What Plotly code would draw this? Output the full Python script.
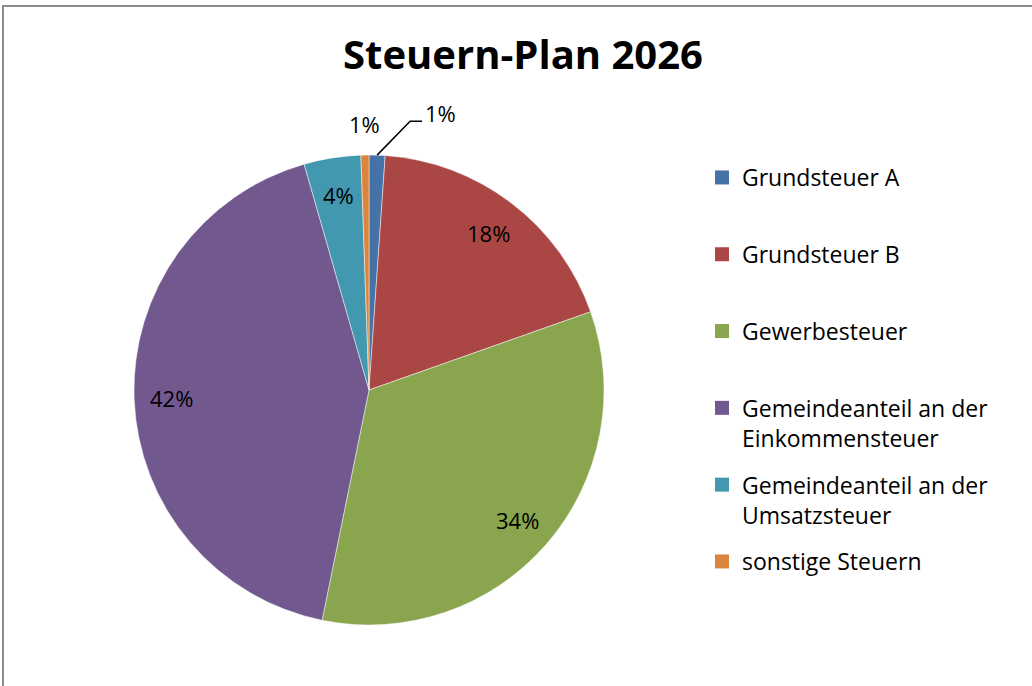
import math
import plotly.graph_objects as go

labels = ["Grundsteuer A", "Grundsteuer B", "Gewerbesteuer",
          "Gemeindeanteil an der<br>Einkommensteuer",
          "Gemeindeanteil an der<br>Umsatzsteuer", "sonstige Steuern"]
values = [1.1, 18.5, 33.6, 42.35, 3.9, 0.55]
colors = ["#4572A7", "#AA4643", "#89A54E", "#71588F", "#4198AF", "#DB843D"]
title_text = "Steuern-Plan 2026"

W, H = 1032, 686
FONT = "Open Sans"
# pie geometry (pixels)
CX, CY, R = 369, 390, 235


def px(x):
    return x / W


def py(y):
    return 1 - y / H


fig = go.Figure()
fig.add_trace(go.Pie(
    labels=[l.replace("<br>", " ") for l in labels],
    values=values,
    sort=False,
    direction="clockwise",
    rotation=0,
    marker=dict(colors=colors, line=dict(color="rgba(255,255,255,0.6)", width=0.8)),
    textinfo="none",
    hoverinfo="label+percent",
    showlegend=False,
    domain=dict(x=[px(CX - R), px(CX + R)], y=[py(CY + R), py(CY - R)]),
))

# legend entries (one group each so they can be spaced like the original)
for lab, col in zip(labels, colors):
    text = lab if "<br>" in lab else lab + "<br> "
    fig.add_trace(go.Scatter(
        x=[None], y=[None], mode="markers", name=text,
        legendgroup=lab, hoverinfo="skip",
        marker=dict(symbol="square", size=14, color=col),
    ))

# percentage labels computed from the values
total = sum(values)
annotations = []
shapes = []
LBL = dict(family=FONT, size=22, color="black")
cum = 0.0
for i, v in enumerate(values):
    mid = (cum + v / 2) / total * 2 * math.pi
    cum += v
    pct = f"{v / total * 100:.0f}%"
    s, c = math.sin(mid), math.cos(mid)
    if v / total >= 0.02:
        x, y = CX + 0.84 * R * s, CY - 0.84 * R * c
        annotations.append(dict(x=px(x), y=py(y), xref="paper", yref="paper",
                                text=pct, showarrow=False,
                                xanchor="center", yanchor="middle", font=LBL))
    elif i == 0:
        ex, ey = CX + R * s, CY - R * c
        elx, ely = ex + 33, ey - 34
        enx = elx + 12
        shapes.append(dict(type="path", xref="paper", yref="paper",
                           path=f"M {px(ex)},{py(ey)} L {px(elx)},{py(ely)} L {px(enx)},{py(ely)}",
                           line=dict(color="black", width=1.5)))
        annotations.append(dict(x=px(enx + 1), y=py(ely - 8), xref="paper", yref="paper",
                                text=pct, showarrow=False,
                                xanchor="left", yanchor="middle", font=LBL))
    else:
        x, y = CX + 1.13 * R * s, CY - 1.13 * R * c
        annotations.append(dict(x=px(x), y=py(y), xref="paper", yref="paper",
                                text=pct, showarrow=False,
                                xanchor="center", yanchor="middle", font=LBL))

shapes.append(dict(type="rect", xref="paper", yref="paper",
                   x0=px(3), x1=1.02, y0=-0.02, y1=py(6),
                   line=dict(color="#8c8c8c", width=2)))

fig.update_layout(
    width=W, height=H,
    margin=dict(l=0, r=0, t=0, b=0),
    paper_bgcolor="white", plot_bgcolor="white",
    xaxis=dict(visible=False), yaxis=dict(visible=False),
    title=dict(text=f"<b>{title_text}</b>", x=px(523), xanchor="center",
               y=py(55), yanchor="middle",
               font=dict(family=FONT, size=40, color="black")),
    legend=dict(x=px(702), xanchor="left", y=py(156), yanchor="top",
                font=dict(family=FONT, size=23, color="black"),
                valign="top", itemclick=False, itemdoubleclick=False,
                traceorder="grouped", tracegroupgap=14),
    annotations=annotations,
    shapes=shapes,
)

fig.write_html("out.html", config={"displayModeBar": False},
               post_script="document.body.style.margin='0';")
